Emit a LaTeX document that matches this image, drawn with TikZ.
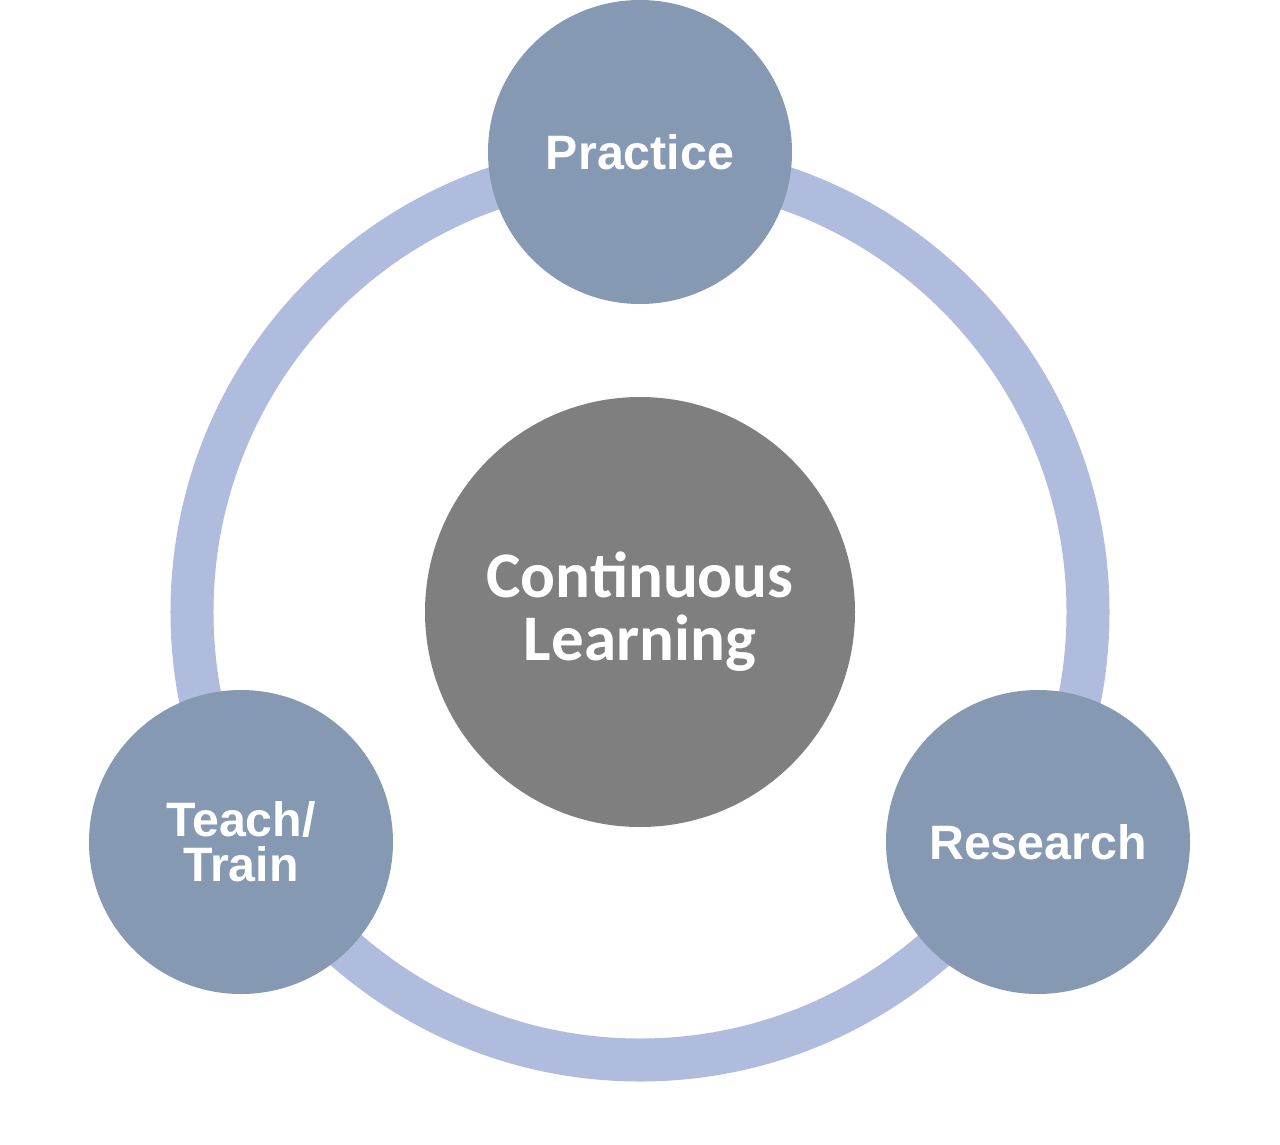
\documentclass[tikz,border=0pt]{standalone}
\usepackage{fontspec}
\setmainfont{Liberation Sans}
\newfontfamily\carlito{Carlito}
\usepackage{tikz}
\definecolor{ringblue}{HTML}{B0BCDD}
\definecolor{nodeblue}{HTML}{8599B2}
\definecolor{coregray}{HTML}{7F7F7F}
\tikzset{
	phase/.style = {circle, fill = nodeblue, minimum size = 60.8mm, inner sep = 0pt, text = white, align = center, font = \fontsize{27.5}{25.6}\selectfont\bfseries},
	core/.style = {circle, fill = coregray, minimum size = 86mm, inner sep = 0pt, text = white, align = center, font = \carlito\fontsize{37}{36}\selectfont\bfseries}
}
\begin{document}
\begin{tikzpicture}[x = 0.2mm, y = -0.2mm]
		\useasboundingbox (0, 0) rectangle (1280, 1144);
		\draw[ringblue, line width = 8.6mm] (640, 612) circle (89.6mm);
		\node[core] (learning) at (640, 612) {Continuous\\Learning};
		\node[phase] (practice) at (640, 152) {Practice};
		\node[phase] (teach) at (241, 842) {Teach/\\Train};
		\node[phase] (research) at (1038, 842) {Research};
\end{tikzpicture}
\end{document}
